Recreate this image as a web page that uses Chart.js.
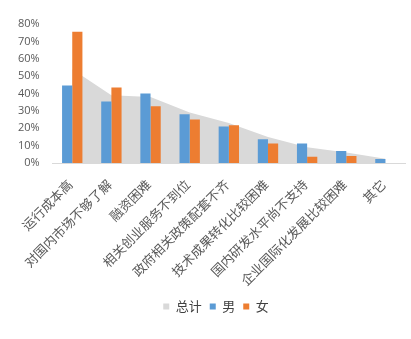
<!DOCTYPE html>
<html>
<head>
<meta charset="utf-8">
<script src="https://cdn.jsdelivr.net/npm/chart.js@4.4.1/dist/chart.umd.min.js"></script>
<style>
  html, body { margin: 0; padding: 0; background: #fff; }
  #wrap { width: 411px; height: 339px; }
</style>
</head>
<body>
<div id="wrap"><canvas id="myChart" width="411" height="339"></canvas></div>
<script>
const categories = ["运行成本高", "对国内市场不够了解", "融资困难", "相关创业服务不到位", "政府相关政策配套不齐",
    "技术成果转化比较困难", "国内研发水平尚不支持", "企业国际化发展比较困难", "其它"]
const totalValues = [54, 39, 38, 29, 23, 15, 9, 6, 2.5]
const maleValues = [44.6, 35.4, 40, 28, 21, 13.7, 11.2, 6.9, 2.3]
const femaleValues = [75.5, 43.4, 32.6, 25, 21.7, 11.2, 3.6, 4, 0]
const seriesNames = ["总计", "男", "女"]

const ctx = document.querySelector("#myChart").getContext("2d")
const textColor = "#595959"

// x labels drawn by hand so the rotated text sits like the original
const slantedLabels = {
    id: "slantedLabels",
    afterLayout: chart => {
        // nudge the legend a bit to the right
        chart.legend.left += 11
        chart.legend.right += 11
    },
    afterDraw: chart => {
        const xScale = chart.scales.x
        const c = chart.ctx
        c.save()
        c.font = "13px 'Noto Sans CJK SC', sans-serif"
        c.fillStyle = textColor
        c.textAlign = "right"
        c.textBaseline = "middle"
        chart.data.labels.forEach((label, i) => {
            const x = xScale.getPixelForTick(i) - 2
            const y = xScale.top + 19
            c.save()
            c.translate(x, y)
            c.rotate(-Math.PI / 4)
            c.fillText(label, 0, 0)
            c.restore()
        })
        c.restore()
    }
}

const myChart = new Chart(ctx, {
    type: "bar",
    data: {
        labels: categories,
        datasets: [
            {
                type: "line",
                label: seriesNames[0],
                data: totalValues,
                backgroundColor: "#d9d9d9",
                borderWidth: 0,
                pointRadius: 0,
                fill: "origin",
                tension: 0,
                order: 2
            },
            {
                label: seriesNames[1],
                data: maleValues,
                backgroundColor: "#5b9bd5",
                categoryPercentage: 0.52,
                barPercentage: 1,
                order: 1
            },
            {
                label: seriesNames[2],
                data: femaleValues,
                backgroundColor: "#ed7d31",
                categoryPercentage: 0.52,
                barPercentage: 1,
                order: 1
            }
        ]
    },
    options: {
        responsive: false,
        animation: false,
        layout: {
            padding: { top: 24, right: 6, bottom: 16, left: 5 }
        },
        plugins: {
            legend: {
                position: "bottom",
                labels: {
                    boxWidth: 6,
                    boxHeight: 6,
                    padding: 8,
                    color: "#404040",
                    sort: (a, b) => a.datasetIndex - b.datasetIndex,
                    font: { family: "'Noto Sans CJK SC', sans-serif", size: 13 }
                }
            },
            tooltip: { enabled: false }
        },
        scales: {
            x: {
                grid: { display: false, drawTicks: false },
                border: { display: true, color: "#d9d9d9" },
                afterFit: scale => {
                    scale.paddingLeft = 0
                    scale.paddingRight = 0
                    scale.height = 129
                },
                ticks: { display: false }
            },
            y: {
                min: 0,
                max: 80,
                grid: { display: false, drawTicks: false },
                border: { display: false },
                ticks: {
                    stepSize: 10,
                    padding: 13,
                    autoSkip: false,
                    color: textColor,
                    font: { family: "'Open Sans', sans-serif", size: 11 },
                    callback: v => v + "%"
                }
            }
        }
    },
    plugins: [slantedLabels]
})
</script>
</body>
</html>
